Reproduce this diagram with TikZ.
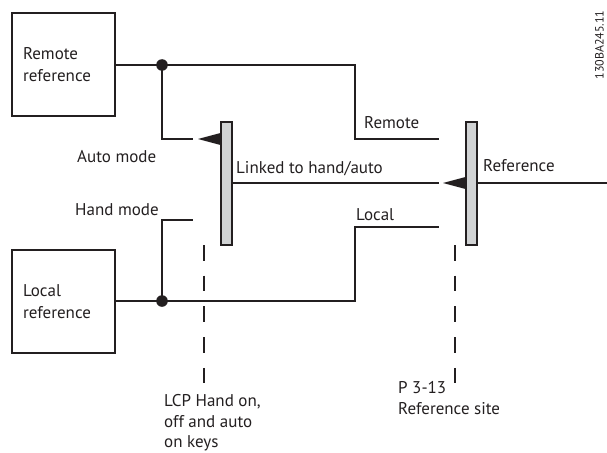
\documentclass[tikz,border=0pt]{standalone}
\usepackage{fontspec}
\setmainfont{PT Sans}
\definecolor{DiagInk}{RGB}{35,31,32}
\definecolor{DiagBar}{RGB}{209,211,212}

\begin{document}
\begin{tikzpicture}[x=1pt,y=-1pt,
	refbox/.style={draw=DiagInk, line width=1.1pt, text=DiagInk, minimum height=103pt,
		text width=81pt, inner xsep=11pt, inner ysep=0pt, align=left,
		font=\fontsize{17}{22}\selectfont},
	selbar/.style={draw=DiagInk, line width=1.1pt, fill=DiagBar, inner sep=0pt,
		minimum width=11pt, minimum height=123pt},
	wire/.style={draw=DiagInk, line width=1.1pt},
	guide/.style={draw=DiagInk, line width=1.1pt, dash pattern=on 15.5pt off 15.2pt},
	tip/.style={fill=DiagInk},
	lbl/.style={text=DiagInk, inner sep=0pt, align=left, font=\fontsize{17}{20.5}\selectfont}]
	\useasboundingbox (0,0) rectangle (607,452);

	\node[refbox] (remote) at (63.5,64.5) {Remote\\reference};
	\node[refbox] (local) at (63.5,301.5) {Local\\reference};
	\node[selbar] (handsel) at (226.5,183.5) {};
	\node[selbar] (sitesel) at (471.5,183.5) {};

	\coordinate (rjoin) at (162,65);
	\coordinate (ljoin) at (162,301);
	\coordinate (rbend) at (355,139);
	\coordinate (rend) at (439,139);
	\coordinate (lbend) at (355,227);
	\coordinate (lend) at (439,227);
	\coordinate (autoend) at (193,139);
	\coordinate (handend) at (193,220);
	\coordinate (linkend) at (439,183);
	\coordinate (refend) at (607,183);

	% remote and local paths
	\draw[wire] (remote.east |- rjoin) -- (rjoin) -| (rbend) -- (rend);
	\draw[wire] (rjoin) |- (autoend);
	\draw[wire] (local.east |- ljoin) -- (ljoin) -| (lbend) -- (lend);
	\draw[wire] (ljoin) |- (handend);
	\draw[wire] (handsel.east |- linkend) -- (linkend);
	\draw[wire] (sitesel.east |- refend) -- (refend);
	\fill[DiagInk] (rjoin) circle (5.8pt);
	\fill[DiagInk] (ljoin) circle (5.8pt);

	% switch tips
	\fill[tip] (198,139) -- (handsel.west |- 0,133) -- (handsel.west |- 0,145) -- cycle;
	\fill[tip] (443,183) -- (sitesel.west |- 0,177) -- (sitesel.west |- 0,189) -- cycle;

	\draw[guide] (204,245) -- (204,385);
	\draw[guide] (455,245) -- (455,385);

	\node[lbl, anchor=base west] (automode) at (77,162) {Auto mode};
	\node[lbl, anchor=base west] (handmode) at (75,215) {Hand mode};
	\node[lbl, anchor=base west] (linked) at (236,173) {Linked to hand/auto};
	\node[lbl, anchor=base west] (remotetxt) at (364,128) {Remote};
	\node[lbl, anchor=base west] (localtxt) at (356,220) {Local};
	\node[lbl, anchor=base west] (reftxt) at (483,171) {Reference};
	\node[lbl, anchor=north west] (lcp) at (164,394.5) {LCP Hand on,\\off and auto\\on keys};
	\node[lbl, anchor=north west] (site) at (398,381.5) {P 3-13\\Reference site};
	\node[text=DiagInk, inner sep=0pt, rotate=90, anchor=south, font=\fontsize{12}{12}\selectfont]
		(drawid) at (604,45) {130BA245.11};
\end{tikzpicture}
\end{document}
